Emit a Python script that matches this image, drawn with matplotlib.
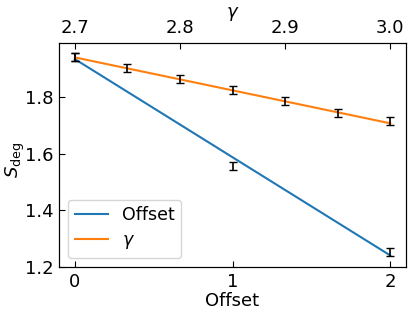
import matplotlib
matplotlib.use("Agg")
import matplotlib.pyplot as plt

# measured points (black error bars)
offset_x = [0, 1, 2]
offset_vals = [1.943, 1.557, 1.251]
offset_err = [0.014, 0.014, 0.014]

gamma_x = [2.70, 2.75, 2.80, 2.85, 2.90, 2.95, 3.00]
gamma_vals = [1.943, 1.904, 1.863, 1.826, 1.785, 1.745, 1.715]
gamma_err = [0.014, 0.014, 0.014, 0.014, 0.014, 0.014, 0.014]

# linear fits
offset_fit_x = [0, 2]
offset_fit = [1.934, 1.240]
gamma_fit_x = [2.70, 3.00]
gamma_fit = [1.940, 1.707]

plt.rcParams["font.size"] = 13

fig, ax = plt.subplots(figsize=(4.16, 3.16), dpi=100)
fig.subplots_adjust(left=0.142, right=0.976, bottom=0.155, top=0.864)

(l1,) = ax.plot(offset_fit_x, offset_fit, color="tab:blue", label="Offset")
ax.errorbar(offset_x, offset_vals, yerr=offset_err, fmt="none",
            ecolor="black", capsize=3, elinewidth=1.2, zorder=3)
ax.set_xlabel("Offset", labelpad=1)
ax.set_ylabel(r"$S_{\rm deg}$")
ax.yaxis.set_label_coords(-0.093, 0.48)
ax.set_xticks([0, 1, 2])
ax.set_yticks([1.2, 1.4, 1.6, 1.8])
ax.tick_params(direction="in", length=4, pad=4)

ax2 = ax.twiny()
(l2,) = ax2.plot(gamma_fit_x, gamma_fit, color="tab:orange", label=r"$\gamma$")
ax2.errorbar(gamma_x, gamma_vals, yerr=gamma_err, fmt="none",
             ecolor="black", capsize=3, elinewidth=1.2, zorder=3)
ax2.set_xlabel(r"$\gamma$", labelpad=2)
ax2.set_xticks([2.7, 2.8, 2.9, 3.0])
ax2.tick_params(direction="in", length=4, pad=4)

ax.set_xlim(-0.1, 2.1)
ax2.set_xlim(2.685, 3.015)
ax.set_ylim(1.199, 1.991)

ax.legend(handles=[l1, l2], loc="lower left", fontsize=12.5,
          labelspacing=0.4, handlelength=1.9)

fig.savefig("out.png", dpi=100)
